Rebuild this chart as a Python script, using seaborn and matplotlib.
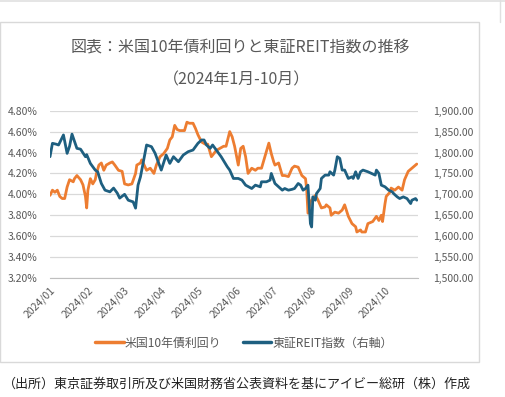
import pandas as pd
import matplotlib.pyplot as plt
import matplotlib.dates as mdates
import matplotlib.ticker as mticker
from matplotlib.patches import Rectangle
from matplotlib.lines import Line2D
import seaborn as sns

sns.set_style("white")
plt.rcParams['font.family'] = ['Noto Sans CJK JP', 'DejaVu Sans']

# US 10y yield (%): days since 2024-01-01
yield_days = [0, 2, 4, 6, 8, 10, 12, 14, 16, 19,
              20, 22, 25, 27, 29, 30, 31, 33, 35, 37,
              38, 40, 42, 44, 46, 49, 51, 53, 56, 59,
              61, 64, 67, 70, 71, 74, 75, 77, 79, 82,
              85, 87, 90, 93, 96, 98, 100, 102, 104, 106,
              109, 110, 112, 114, 117, 119, 121, 124, 127, 129,
              132, 134, 136, 139, 142, 144, 147, 149, 151, 154,
              156, 158, 160, 162, 165, 168, 170, 173, 175, 177,
              179, 181, 183, 184, 187, 190, 192, 195, 198, 200,
              203, 206, 209, 210, 211, 213, 217, 219, 222, 225,
              226, 229, 230, 233, 236, 239, 241, 244, 247, 250,
              251, 254, 255, 258, 260, 264, 267, 269, 271, 272,
              274, 275, 278, 279, 282, 285, 288, 290, 293, 296,
              299, 300]
yield_values = [3.99, 4.04, 4.02, 4.04, 3.98, 3.96, 3.96, 4.07, 4.14, 4.12,
                4.15, 4.18, 4.14, 4.09, 3.98, 3.87, 4.04, 4.15, 4.10, 4.14,
                4.20, 4.28, 4.30, 4.23, 4.28, 4.30, 4.31, 4.28, 4.23, 4.22,
                4.10, 4.09, 4.10, 4.20, 4.28, 4.30, 4.33, 4.28, 4.23, 4.25,
                4.20, 4.28, 4.36, 4.39, 4.44, 4.52, 4.55, 4.66, 4.62, 4.61,
                4.61, 4.61, 4.69, 4.68, 4.68, 4.63, 4.57, 4.50, 4.48, 4.48,
                4.36, 4.39, 4.42, 4.44, 4.46, 4.46, 4.60, 4.55, 4.46, 4.28,
                4.44, 4.46, 4.36, 4.20, 4.25, 4.23, 4.25, 4.25, 4.33, 4.41,
                4.49, 4.39, 4.31, 4.28, 4.30, 4.18, 4.18, 4.17, 4.25, 4.27,
                4.26, 4.18, 4.15, 4.04, 3.82, 3.93, 3.99, 3.95, 3.87, 3.88,
                3.90, 3.87, 3.80, 3.83, 3.82, 3.85, 3.90, 3.79, 3.72, 3.69,
                3.64, 3.66, 3.64, 3.64, 3.72, 3.74, 3.79, 3.75, 3.80, 3.74,
                3.91, 3.98, 4.02, 4.06, 4.04, 4.07, 4.04, 4.14, 4.22, 4.25,
                4.28, 4.29]

# TSE REIT index (right axis)
reit_days = [0, 2, 5, 7, 11, 14, 16, 18, 22, 25,
             29, 30, 33, 37, 39, 42, 45, 49, 52, 55,
             57, 61, 64, 68, 70, 72, 74, 79, 83, 86,
             88, 91, 95, 98, 101, 105, 109, 113, 117, 121,
             124, 126, 128, 131, 133, 137, 140, 145, 147, 150,
             154, 157, 160, 165, 168, 172, 173, 177, 180, 181,
             184, 187, 190, 192, 195, 198, 200, 203, 205, 207,
             209, 211, 213, 214, 215, 217, 218, 221, 222, 225,
             228, 229, 232, 233, 235, 237, 239, 241, 244, 247,
             248, 250, 252, 254, 256, 260, 263, 266, 267, 269,
             271, 274, 277, 280, 281, 284, 286, 289, 292, 295,
             296, 299, 300]
reit_values = [1790, 1822, 1820, 1818, 1842, 1798, 1815, 1844, 1810, 1808,
               1790, 1795, 1774, 1758, 1754, 1726, 1710, 1706, 1715, 1703,
               1691, 1700, 1686, 1682, 1667, 1722, 1742, 1818, 1814, 1798,
               1782, 1758, 1794, 1774, 1790, 1778, 1794, 1802, 1806, 1822,
               1830, 1830, 1818, 1810, 1818, 1802, 1790, 1766, 1758, 1738,
               1738, 1734, 1722, 1714, 1722, 1718, 1730, 1730, 1734, 1750,
               1726, 1718, 1710, 1714, 1710, 1712, 1714, 1726, 1722, 1710,
               1714, 1722, 1630, 1622, 1694, 1686, 1702, 1714, 1738, 1746,
               1746, 1754, 1746, 1758, 1790, 1786, 1758, 1758, 1738, 1742,
               1738, 1754, 1738, 1754, 1758, 1754, 1750, 1746, 1758, 1750,
               1722, 1718, 1710, 1706, 1702, 1694, 1690, 1694, 1690, 1678,
               1686, 1690, 1686]

start = pd.Timestamp('2024-01-01')
yield_dates = start + pd.to_timedelta(yield_days, unit='D')
reit_dates = start + pd.to_timedelta(reit_days, unit='D')

orange = '#ED7D31'
blue = '#1E5F80'
grey = '#595959'

fig = plt.figure(figsize=(5.05, 3.97), dpi=100)
ax = fig.add_axes([50 / 505, 1 - 278 / 397, 368 / 505, (278 - 110.7) / 397])
ax2 = ax.twinx()

sns.lineplot(x=yield_dates, y=yield_values, ax=ax, color=orange, linewidth=2)
sns.lineplot(x=reit_dates, y=reit_values, ax=ax2, color=blue, linewidth=2)

ax.set_xlim(start, start + pd.Timedelta(days=301))
ax.set_ylim(3.2, 4.8)
ax2.set_ylim(1500, 1900)
ax.set_yticks([3.2 + 0.2 * i for i in range(9)])
ax2.set_yticks([1500 + 50 * i for i in range(9)])
ax.yaxis.set_major_formatter(mticker.FuncFormatter(lambda v, p: f'{v:.2f}%'))
ax2.yaxis.set_major_formatter(mticker.FuncFormatter(lambda v, p: f'{v:,.2f}'))

ax.xaxis.set_major_locator(mdates.MonthLocator())
ax.xaxis.set_major_formatter(mdates.DateFormatter('%Y/%m'))
ax.grid(axis='y', color='#d9d9d9', linewidth=0.9)
ax.set_axisbelow(True)
ax.set_xlabel('')
ax.set_ylabel('')
ax2.set_ylabel('')

for a in (ax, ax2):
    for side in ('left', 'right', 'top'):
        a.spines[side].set_visible(False)
    a.spines['bottom'].set_color('#bfbfbf')
ax2.spines['bottom'].set_visible(False)

ax.tick_params(axis='y', length=0, pad=9, labelsize=7.5, labelcolor=grey)
ax2.tick_params(axis='y', length=0, pad=11, labelsize=7.5, labelcolor=grey)
ax.tick_params(axis='x', length=3, color='#bfbfbf', labelsize=7.5, labelcolor=grey, pad=2)
plt.setp(ax.get_xticklabels(), rotation=45, ha='right', rotation_mode='anchor')

fig.text(240 / 505, 1 - 47 / 397, '図表：米国10年債利回りと東証REIT指数の推移',
         ha='center', va='center', fontsize=11.5, color=grey)
fig.text(237 / 505, 1 - 80 / 397, '（2024年1月-10月）',
         ha='center', va='center', fontsize=11.5, color=grey)

handles = [Line2D([], [], color=orange, linewidth=2.5),
           Line2D([], [], color=blue, linewidth=2.5)]
fig.legend(handles, ['米国10年債利回り', '東証REIT指数（右軸）'],
           loc='center', bbox_to_anchor=(244 / 505, 1 - 343 / 397), ncol=2,
           frameon=False, fontsize=8.6, labelcolor=grey, handlelength=2.4,
           handletextpad=0.1, columnspacing=1.8)

fig.text(3 / 505, 1 - 384 / 397,
         '（出所）東京証券取引所及び米国財務省公表資料を基にアイビー総研（株）作成',
         ha='left', va='center', fontsize=9.4, color='#222222')

fig.patches.append(Rectangle((0, 1 - 362 / 397), 479 / 505, 340 / 397,
                             transform=fig.transFigure, fill=False,
                             edgecolor='#d9d9d9', linewidth=1))
fig.lines.append(Line2D([0, 1], [0.998, 0.998], transform=fig.transFigure,
                        color='#e0e0e0', linewidth=1.2))
fig.lines.append(Line2D([500 / 505, 500 / 505], [1 - 22 / 397, 1],
                        transform=fig.transFigure, color='#e0e0e0', linewidth=1))

fig.savefig('out.png', dpi=100)
